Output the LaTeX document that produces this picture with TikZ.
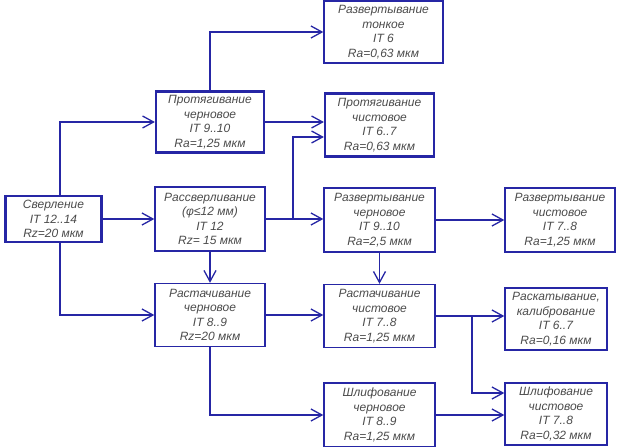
\documentclass[tikz,border=0pt]{standalone}
\usepackage{fontspec}
\setmainfont{Liberation Sans}
\usetikzlibrary{positioning,arrows.meta}
\definecolor{lineblue}{RGB}{38,38,165}
\definecolor{txtgray}{RGB}{75,75,75}

\begin{document}
\begin{tikzpicture}[
    x=1pt, y=-1pt,
    font=\fontsize{12}{14.5}\selectfont\itshape,
    op/.style={draw=lineblue, line width=1.4pt, align=center, text=txtgray,
      minimum width=111pt, minimum height=64pt, inner sep=2pt},
    opthick/.style={op, line width=2.8pt},
    opdouble/.style={op, line width=2.2pt},
    arr/.style={-{Straight Barb[length=11pt,width=12pt,line width=1.3pt]}, line width=1.5pt, draw=lineblue},
  ]
    \useasboundingbox (0,0) rectangle (624,447);
    \node[opthick, minimum width=96pt, minimum height=46pt] (sverl) at (53.5,219) {Сверление\\IT 12..14\\Rz=20 мкм};
    \node[opdouble, minimum width=108pt, minimum height=61pt] (protch) at (210,122) {Протягивание\\черновое\\IT 9..10\\Ra=1,25 мкм};
    \node[op, minimum width=110pt] (rassv) at (210,219) {Рассверливание\\(φ≤12 мм)\\IT 12\\Rz= 15 мкм};
    \node[op, minimum width=110pt, minimum height=63pt] (rastch) at (210,315) {Растачивание\\черновое\\IT 8..9\\Rz=20 мкм};
    \node[op, minimum width=119pt, minimum height=62pt] (razton) at (383.5,32) {Развертывание\\тонкое\\IT 6\\Ra=0,63 мкм};
    \node[opdouble, minimum width=109pt, minimum height=63pt] (protchist) at (379.5,125) {Протягивание\\чистовое\\IT 6..7\\Ra=0,63 мкм};
    \node[op] (razch) at (379.5,220) {Развертывание\\черновое\\IT 9..10\\Ra=2,5 мкм};
    \node[op, minimum height=63pt] (rastchist) at (379.5,316) {Растачивание\\чистовое\\IT 7..8\\Ra=1,25 мкм};
    \node[op] (shlch) at (379.5,415) {Шлифование\\черновое\\IT 8..9\\Ra=1,25 мкм};
    \node[op, minimum width=110pt] (razchist) at (560,220) {Развертывание\\чистовое\\IT 7..8\\Ra=1,25 мкм};
    \node[op, minimum width=102pt, minimum height=62pt] (raskat) at (556,319) {Раскатывание,\\калибрование\\IT 6..7\\Ra=0,16 мкм};
    \node[op, minimum width=102pt, minimum height=62pt] (shlchist) at (556,414) {Шлифование\\чистовое\\IT 7..8\\Ra=0,32 мкм};
    \coordinate (fork) at (293,219);
    \coordinate (fork2) at (472,316);
    \draw[arr] (sverl.east) -- (sverl.east -| rassv.west);
    \draw[arr] ([xshift=6.5pt]sverl.north) |- (protch.west);
    \draw[arr] ([xshift=6.5pt]sverl.south) |- (rastch.west);
    \draw[arr] (protch.north) |- (razton.west);
    \draw[arr] (protch.east) -- (protch.east -| protchist.west);
    \draw[arr] (rassv.east) -- (rassv.east -| razch.west);
    \draw[arr] (fork) |- ([yshift=-12pt]protchist.west);
    \draw[arr] (rassv.south) -- (rastch.north);
    \draw[arr] (rastch.east) -- (rastch.east -| rastchist.west);
    \draw[arr] (rastch.south) |- (shlch.west);
    \draw[arr] (razch.east) -- (razch.east -| razchist.west);
    \draw[arr] (razch.south) -- (rastchist.north);
    \draw[arr] (rastchist.east) -- (rastchist.east -| raskat.west);
    \draw[arr] (fork2) |- ([yshift=21pt]shlchist.west);
    \draw[arr] (shlch.east) -- (shlch.east -| shlchist.west);
  \end{tikzpicture}
\end{document}
